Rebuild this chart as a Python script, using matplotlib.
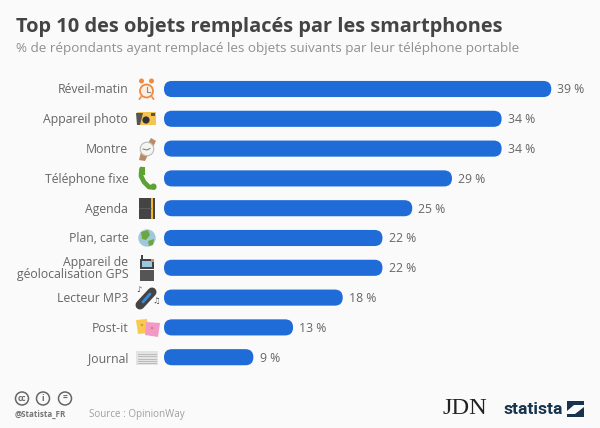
import numpy as np
import matplotlib
matplotlib.use('Agg')
import matplotlib.pyplot as plt
from matplotlib.patches import FancyBboxPatch, Circle, Rectangle, Polygon

labels = ['Réveil-matin', 'Appareil photo', 'Montre', 'Téléphone fixe', 'Agenda',
          'Plan, carte', 'Appareil de\ngéolocalisation GPS', 'Lecteur MP3', 'Post-it', 'Journal']
values = [39, 34, 34, 29, 25, 22, 22, 18, 13, 9]

BLUE = '#1f6bd8'
BG = '#fafafa'
NAVY = '#16344f'
W, H = 600, 428
PX = 9.93    # pixels per percent
STEP = 29.8  # pixels between bars

plt.rcParams['font.family'] = ['Open Sans', 'DejaVu Sans']

fig = plt.figure(figsize=(W / 100, H / 100), dpi=100, facecolor=BG)

# bars: percent on x, rank on y, the axes fill the whole figure
ax = fig.add_axes([0, 0, 1, 1])
ax.set_xlim(-164 / PX, (W - 164) / PX)
ax.set_ylim((H - 89) / STEP, -89 / STEP)
ax.axis('off')

for i, v in enumerate(values):
    ax.add_patch(FancyBboxPatch((0, i - 0.27), v, 0.54,
                                boxstyle='round,pad=0,rounding_size=0.8',
                                mutation_aspect=PX / STEP, fc=BLUE, ec='none'))
    ax.text(v + 0.62, i + 0.03, '%d %%' % v, fontsize=8.8, color='#666666', va='center', ha='left')
    ax.text(-3.6, i + 0.03, labels[i], fontsize=8.8, color='#666666', va='center', ha='right',
            linespacing=0.95)

# overlay in pixel coordinates for titles, icons and logos
p = fig.add_axes([0, 0, 1, 1], facecolor='none')
p.set_xlim(0, W)
p.set_ylim(H, 0)
p.axis('off')

p.text(16, 27, 'Top 10 des objets remplacés par les smartphones', fontsize=14.45,
       fontweight='bold', color='#444444', va='center')
p.text(16, 48, '% de répondants ayant remplacé les objets suivants par leur téléphone portable',
       fontsize=9.7, color='#909090', va='center')


def rect(x, y, w, h, c, **kw):
    p.add_patch(Rectangle((x, y), w, h, fc=c, ec='none', **kw))


# alarm clock
p.add_patch(Circle((146.5, 91), 6.5, fc='#fbeee2', ec='#ee8a44', lw=1.3))
p.add_patch(Circle((141.5, 81), 2.5, fc='#ee8a44', ec='none'))
p.add_patch(Circle((151.5, 81), 2.5, fc='#ee8a44', ec='none'))
p.plot([146.5, 146.5, 150], [87, 91.5, 91.5], color='#888888', lw=0.8)
p.plot([141, 139.5], [97, 99], color='#ee8a44', lw=1.2)
p.plot([152, 153.5], [97, 99], color='#ee8a44', lw=1.2)

# camera
rect(137, 112, 19, 13, '#f5c34f')
p.add_patch(Polygon([[136, 113], [143, 113], [140, 125], [137, 125]], fc='#555555', ec='none'))
p.add_patch(Circle((146, 120), 3.6, fc='#333333', ec='none'))
rect(151, 113, 4, 3, '#555555')

# watch
p.add_patch(Polygon([[147, 145], [151, 138], [156, 141], [152, 149]], fc='#b98a66', ec='none'))
p.add_patch(Polygon([[141, 152], [148, 155], [145, 161], [139, 160]], fc='#b98a66', ec='none'))
p.add_patch(Circle((147, 149), 6.8, fc='#f4f4f0', ec='#bbbbbb', lw=0.8))
p.plot([143, 147, 150], [149, 150, 148.5], color='#777777', lw=0.7)

# phone
p.plot([141.5, 141, 144, 149, 154], [169, 176, 182, 187, 187.5], color='#5da331', lw=3.4,
       solid_capstyle='round')
rect(139.5, 167, 5, 8, '#5da331')
p.add_patch(Circle((153.5, 186.5), 3, fc='#5da331', ec='none'))

# agenda
rect(139, 198, 16, 21, '#444444')
rect(151, 198, 2, 21, '#f3b72e')
p.plot([139, 151], [208, 208], color='#666666', lw=0.5)

# globe
p.add_patch(Circle((147, 238), 8.7, fc='#9fc9d8', ec='none'))
p.add_patch(Polygon([[141, 232], [148, 230], [150, 235], [146, 240], [142, 239]], fc='#6da640', ec='none'))
p.add_patch(Polygon([[148, 241], [154, 239], [153, 245], [149, 246]], fc='#6da640', ec='none'))

# GPS
rect(141, 255, 2, 6, '#444444')
rect(140, 259, 14, 10, '#444444')
rect(142, 261, 10, 6, '#9cc7e3')
rect(140, 270, 14, 11, '#555555')
rect(151, 259, 3, 3, '#ee8a44')

# MP3 player
p.plot([140, 152], [305, 292], color='#444444', lw=6.5, solid_capstyle='round')
p.plot([143, 150], [302, 294], color='#3a8ad8', lw=2.0, solid_capstyle='round')
p.text(139, 291, '♪', fontsize=6, color='#444444', ha='center', va='center')
p.text(156, 302, '♫', fontsize=6, color='#444444', ha='center', va='center')

# post-it
p.add_patch(Polygon([[136, 320], [147, 319], [148, 333], [138, 334]], fc='#f8c94e', ec='none'))
p.add_patch(Polygon([[146, 322], [160, 323], [158, 337], [145, 335]], fc='#f39ac4', ec='none'))
p.add_patch(Circle((142, 325), 1.2, fc='#c99a2e', ec='none'))
p.add_patch(Circle((152, 328), 1.2, fc='#cc7aa0', ec='none'))

# newspaper
rect(136, 351, 22, 14, '#e3e3e3')
for yy in [353.5, 356, 358.5, 361, 363]:
    p.plot([138, 156], [yy, yy], color='#b5b5b5', lw=0.6)

# cc badges
for cx, s in zip([22, 43, 65], ['cc', 'i', '=']):
    p.add_patch(Circle((cx, 398.5), 6.5, fc='none', ec='#666666', lw=1.1))
    p.text(cx, 398.3, s, fontsize=6, fontweight='bold', color='#666666', ha='center', va='center')

p.text(15, 414.5, '@Statista_FR', fontsize=5.8, fontweight='bold', color='#777777', va='center')
p.text(89, 414.5, 'Source : OpinionWay', fontsize=7.15, color='#a0a0a0', va='center')

# logos
p.text(442.5, 409, 'JDN', fontsize=17.6, family='Liberation Serif', color='#222222', va='center')
p.text(503, 410, 'statista', fontsize=12.6, family='Roboto', fontweight='bold',
       color=NAVY, va='center')
rect(567, 401, 17, 16, NAVY)
p.add_patch(Polygon([[567, 411], [574, 405], [584, 405], [584, 407], [575, 414], [567, 414]], fc=BG, ec='none'))

fig.savefig('out.png', dpi=100, facecolor=BG)
